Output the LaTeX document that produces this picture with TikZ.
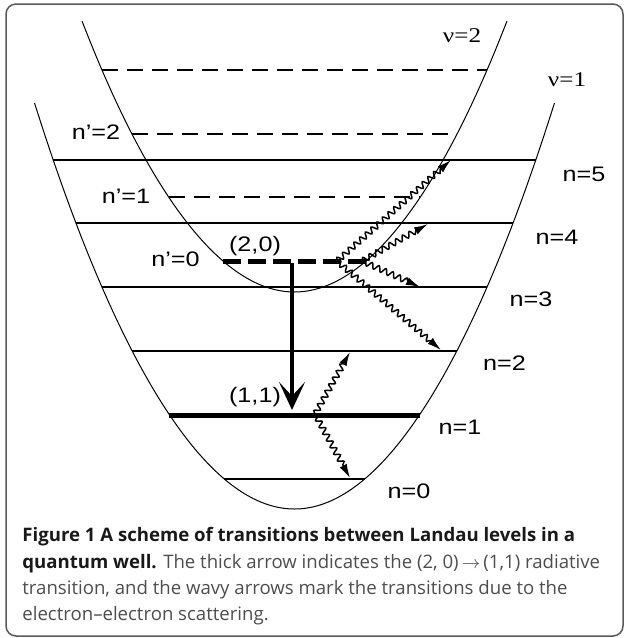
\documentclass[tikz,border=0pt]{standalone}
\usepackage{fontspec}
\setmainfont{Open Sans}
\newfontfamily\lblfont[FakeStretch=1.2]{Liberation Sans}
\newfontfamily\nufont[FakeStretch=1.2]{Liberation Serif}
\usetikzlibrary{arrows.meta,decorations.pathmorphing}
\definecolor{captiongray}{HTML}{4D4D4F}
\definecolor{framegray}{HTML}{58595B}

\begin{document}
\begin{tikzpicture}[x=0.5pt, y=-0.5pt,
    well/.style={line width=0.5pt},
    level/.style={line width=0.75pt},
    sublevel/.style={line width=1.1pt, dash pattern=on 8pt off 4.5pt},
    lbl/.style={font=\lblfont\fontsize{10.5}{12}\selectfont, inner sep=0pt},
    nulbl/.style={font=\nufont\fontsize{10.5}{12}\selectfont, inner sep=0pt},
    wavy/.style={decorate, decoration={snake, amplitude=1.4pt, segment length=3.8pt, post length=6pt}, -{Latex[length=7pt, width=4pt]}, line width=0.75pt},
    bigarrow/.style={-{Stealth[length=14pt, width=13pt, inset=7pt]}, line width=2.25pt}
  ]
  \useasboundingbox (0,0) rectangle (624,638);
  \draw[framegray, line width=0.75pt, rounded corners=5pt] (6,4) rectangle (623,636);

  % the two wells
  \draw[well] (34.5,103) parabola bend (294.5,509) (554.5,103);
  \draw[well] (82,21) parabola bend (294.5,292) (507,21);

  % levels of the lower well
  \draw[level] (223.8,479) -- (365.2,479);
  \draw[level, line width=2.5pt] (169.3,415) -- (419.7,415);
  \draw[level] (132.2,351) -- (456.8,351);
  \draw[level] (102.1,287) -- (486.9,287);
  \draw[level] (76.2,223) -- (512.8,223);
  \draw[level] (53.3,160) -- (535.7,160);

  % levels of the upper well
  \draw[sublevel, line width=2.5pt, dash pattern=on 9pt off 3.5pt] (222.6,261) -- (366.4,261);
  \draw[sublevel] (168.7,197) -- (420.3,197);
  \draw[sublevel] (132.2,134) -- (456.8,134);
  \draw[sublevel] (102.1,70) -- (486.9,70);

  % labels
  \node[nulbl] (nu2) at (462,36) {ν=2};
  \node[nulbl] (nu1) at (567,80) {ν=1};
  \node[lbl] (np2) at (96,132) {n’=2};
  \node[lbl] (np1) at (126,196) {n’=1};
  \node[lbl] (np0) at (175.5,259) {n’=0};
  \node[lbl] (s20) at (255,246) {(2,0)};
  \node[lbl] (n5) at (584,174) {n=5};
  \node[lbl] (n4) at (557,237) {n=4};
  \node[lbl] (n3) at (531,299) {n=3};
  \node[lbl] (n2) at (504.5,363) {n=2};
  \node[lbl] (n1) at (460,427) {n=1};
  \node[lbl] (s11) at (255,397) {(1,1)};
  \node[lbl] (n0) at (409,491) {n=0};

  % transitions
  \coordinate (top20) at (292,263);
  \coordinate (bot11) at (292,410);
  \coordinate (from20a) at (337,261);
  \coordinate (from20b) at (362,261);
  \coordinate (to5) at (451,160);
  \coordinate (to4) at (428,224);
  \coordinate (to3) at (420,287);
  \coordinate (to2) at (441,350);
  \coordinate (from11) at (315,414);
  \coordinate (to2b) at (350,352);
  \coordinate (to0) at (350,478);
  \draw[bigarrow] (top20) -- (bot11);
  \draw[wavy] (from20a) -- (to5);
  \draw[wavy] (from20b) -- (to4);
  \draw[wavy] (from20b) -- (to3);
  \draw[wavy] (from20a) -- (to2);
  \draw[wavy] (from11) -- (to2b);
  \draw[wavy] (from11) -- (to0);

  % caption
  \node[anchor=north west, align=left, inner sep=0pt, font=\fontsize{9.3}{13.2}\selectfont, text=captiongray] (caption) at (22,527)
    {\textbf{\color{black!90}Figure 1 A scheme of transitions between Landau levels in a}\\
     \textbf{\color{black!90}quantum well.} The thick arrow indicates the (2,~0)\,$\rightarrow$\,(1,1) radiative\\
     transition, and the wavy arrows mark the transitions due to the\\
     electron--electron scattering.};
\end{tikzpicture}
\end{document}
